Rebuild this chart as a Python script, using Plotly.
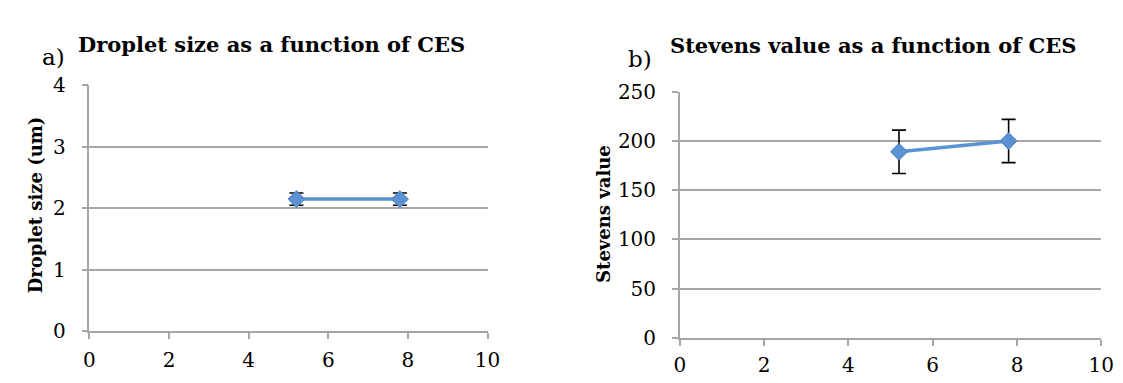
import plotly.graph_objects as go

# Data
ces = [5.2, 7.8]
droplet_size = [2.15, 2.15]
droplet_err = [0.1, 0.1]
stevens = [189, 200]
stevens_err = [22, 22]

x_ticks = [0, 2, 4, 6, 8, 10]
y1_ticks = [0, 1, 2, 3, 4]
y2_ticks = [0, 50, 100, 150, 200, 250]

FONT = "DejaVu Serif"
BLUE = "#5B92D3"
GRID = "#A6A6A6"

fig = go.Figure()

for xa, ya, yv, ev in [("x", "y", droplet_size, droplet_err), ("x2", "y2", stevens, stevens_err)]:
    fig.add_trace(go.Scatter(
        x=ces, y=yv, mode="lines+markers",
        line=dict(color=BLUE, width=3.5),
        marker=dict(symbol="diamond", size=13, color=BLUE, line=dict(color="#4A7FC0", width=1)),
        error_y=dict(type="data", array=ev, color="black", thickness=1.6, width=7),
        xaxis=xa, yaxis=ya, showlegend=False, cliponaxis=False))

axis_common = dict(
    showline=True, linecolor=GRID, linewidth=1.5,
    ticks="outside", ticklen=6, tickcolor=GRID, tickwidth=1.5,
    tickfont=dict(family=FONT, size=20, color="black"),
    zeroline=False, fixedrange=True)

fig.update_layout(
    width=1123, height=383,
    margin=dict(l=0, r=0, t=0, b=0),
    paper_bgcolor="white", plot_bgcolor="white",
    xaxis=dict(domain=[0.0683, 0.4289], range=[0, 10], tickvals=x_ticks,
               showgrid=False, anchor="y", ticklabelstandoff=4, **axis_common),
    yaxis=dict(domain=[0.1324, 0.8185], range=[0, 4.001], tickvals=y1_ticks,
               showgrid=True, gridcolor=GRID, gridwidth=1.5, anchor="x",
               ticklabelstandoff=12, **axis_common),
    xaxis2=dict(domain=[0.6031, 0.9849], range=[0, 10], tickvals=x_ticks,
                showgrid=False, anchor="y2", ticklabelstandoff=2, **axis_common),
    yaxis2=dict(domain=[0.1149, 0.8003], range=[0, 250.1], tickvals=y2_ticks,
                showgrid=True, gridcolor=GRID, gridwidth=1.5, anchor="x2",
                ticklabelstandoff=12, **axis_common),
)

ann = [
    dict(text="a)", x=26, y=40, size=23),
    dict(text="<b>Droplet size as a function of CES</b>", x=63, y=26, size=21),
    dict(text="b)", x=623, y=42, size=23),
    dict(text="<b>Stevens value as a function of CES</b>", x=665, y=27, size=21),
]
for a in ann:
    fig.add_annotation(text=a["text"], xref="paper", yref="paper",
                       x=a["x"] / 1123, y=1 - a["y"] / 383,
                       xanchor="left", yanchor="middle", showarrow=False,
                       font=dict(family=FONT, size=a["size"], color="black"))

fig.add_annotation(text="<b>Droplet size (um)</b>", xref="paper", yref="paper",
                   x=22 / 1123, y=1 - 197 / 383, textangle=-90,
                   xanchor="center", yanchor="middle", showarrow=False,
                   font=dict(family=FONT, size=18, color="black"))
fig.add_annotation(text="<b>Stevens value</b>", xref="paper", yref="paper",
                   x=599 / 1123, y=1 - 207 / 383, textangle=-90,
                   xanchor="center", yanchor="middle", showarrow=False,
                   font=dict(family=FONT, size=18, color="black"))

fig.write_html("out.html")
